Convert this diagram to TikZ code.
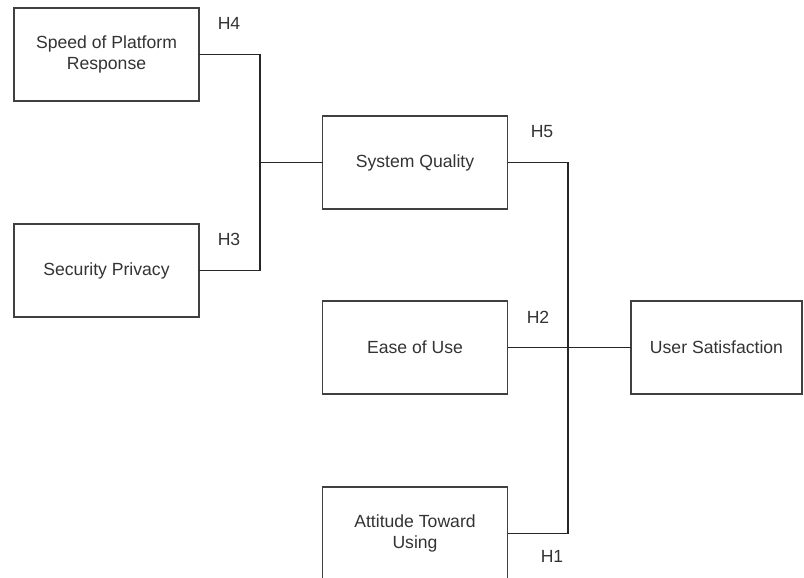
\documentclass[tikz,border=0pt]{standalone}
\usepackage{fontspec}
\setmainfont{Liberation Sans}
\begin{document}
\begin{tikzpicture}[x=0.75pt, y=-0.75pt,
    varbox/.style={draw=black!75, line width=1.1pt, fill=white, inner sep=0pt, outer sep=0pt,
      minimum width=138.75pt, minimum height=69.75pt, align=center, text=black!80,
      font=\fontsize{13.2}{15.8}\selectfont},
    hlabel/.style={text=black!80, font=\fontsize{13.2}{15.8}\selectfont, inner sep=0pt},
    link/.style={draw=black!85, line width=0.8pt}]
    \useasboundingbox (0,0) rectangle (804,578);

    % Constructs
    \node[varbox] (speed) at (106.5,54.5) {Speed of Platform\\Response};
    \node[varbox] (security) at (106.5,270.5) {Security Privacy};
    \node[varbox] (sysq) at (415,162.5) {System Quality};
    \node[varbox] (ease) at (415,347.5) {Ease of Use};
    \node[varbox] (attitude) at (415,533.5) {Attitude Toward\\Using};
    \node[varbox, minimum width=128.25pt] (usersat) at (716.5,347.5) {User Satisfaction};

    % Junctions
    \coordinate (jleft) at (260,162.5);
    \coordinate (jright) at (568,347.5);

    % Paths
    \draw[link] (speed.east) -| (jleft) |- (security.east);
    \draw[link] (jleft) -- (sysq.west);
    \draw[link] (sysq.east) -| (jright) |- (attitude.east);
    \draw[link] (ease.east) -- (usersat.west);

    % Hypothesis labels
    \node[hlabel] (h4) at (229,23) {H4};
    \node[hlabel] (h3) at (229,239) {H3};
    \node[hlabel] (h5) at (542,132) {H5};
    \node[hlabel] (h2) at (538,317) {H2};
    \node[hlabel] (h1) at (552,556) {H1};
\end{tikzpicture}
\end{document}
